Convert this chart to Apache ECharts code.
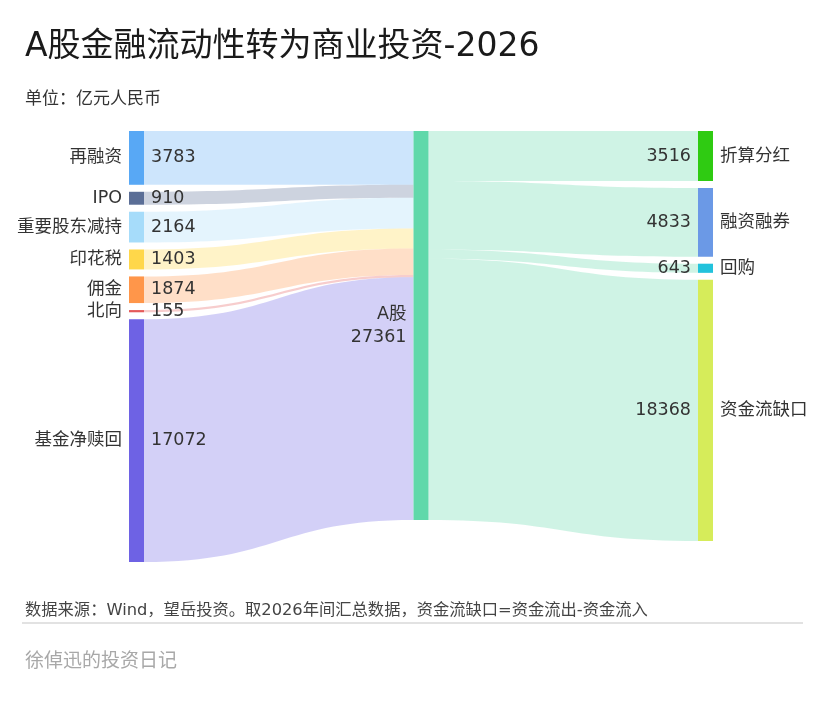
<!DOCTYPE html>
<html>
<head>
<meta charset="utf-8">
<script src="https://cdn.jsdelivr.net/npm/echarts@6/dist/echarts.min.js"></script>
<style>
html, body { margin: 0; padding: 0; background: #fff; }
#main { width: 825px; height: 701px; }
</style>
</head>
<body>
<div id="main"></div>
<script>
// 资金来源（流出A股）
var sourceNames = ['再融资', 'IPO', '重要股东减持', '印花税', '佣金', '北向', '基金净赎回'];
var sourceValues = [3783, 910, 2164, 1403, 1874, 155, 17072];
var sourceColors = ['#58a8f5', '#5b6e96', '#a6dcfa', '#ffd74a', '#ff964a', '#e45a5a', '#6e62e4'];

var hubName = 'A股';
var hubColor = '#60d8aa';

// 资金去向（流入A股 / 缺口）
var useNames = ['折算分红', '融资融券', '回购', '资金流缺口'];
var useValues = [3516, 4833, 643, 18368];
var useColors = ['#2fcb12', '#6b99e6', '#22c2dc', '#d6ec5a'];

var fontName = '"DejaVu Sans", "Noto Sans CJK SC", sans-serif';

function buildNodes() {
    var nodes = [];
    sourceNames.forEach(function (n, i) {
        nodes.push({ name: n, itemStyle: { color: sourceColors[i] } });
    });
    nodes.push({ name: hubName, itemStyle: { color: hubColor } });
    useNames.forEach(function (n, i) {
        nodes.push({ name: n, itemStyle: { color: useColors[i] } });
    });
    return nodes;
}

function buildLinks() {
    var links = [];
    sourceNames.forEach(function (n, i) {
        links.push({ source: n, target: hubName, value: sourceValues[i] });
    });
    useNames.forEach(function (n, i) {
        links.push({ source: hubName, target: n, value: useValues[i] });
    });
    return links;
}

function isUse(name) { return useNames.indexOf(name) >= 0; }

// 两个相同布局的桑基图：一个画图形+左侧标签，一个透明只放右侧标签
function sankeySeries(leftSide) {
    return {
        type: 'sankey',
        left: 129,
        right: 112,
        top: 131,
        bottom: 139,
        nodeWidth: 15,
        nodeGap: 7,
        layoutIterations: 0,   // 保持节点原始顺序
        draggable: false,
        silent: !leftSide,
        emphasis: { disabled: true },
        data: buildNodes(),
        links: buildLinks(),
        itemStyle: leftSide ? { borderWidth: 0 } : { opacity: 0, borderWidth: 0 },
        lineStyle: leftSide ? { color: 'source', opacity: 0.3, curveness: 0.5 } : { opacity: 0 },
        label: {
            position: leftSide ? 'left' : 'right',
            distance: 7,
            color: '#333',
            fontSize: 17.5,
            lineHeight: 23,
            fontFamily: fontName,
            formatter: function (p) {
                if (leftSide) {
                    if (isUse(p.name)) return p.value;
                    if (p.name === hubName) return p.name + '\n' + p.value;
                    return p.name;
                } else {
                    if (isUse(p.name)) return p.name;
                    if (p.name === hubName) return '';
                    return p.value;
                }
            }
        }
    };
}

var myChart = echarts.init(document.getElementById('main'));
var option = {
    backgroundColor: '#fff',
    animation: false,
    title: [
        {
            text: 'A股金融流动性转为商业投资-2026',
            left: 20, top: 26,
            textStyle: { fontSize: 33, fontWeight: 'normal', color: '#1a1a1a', fontFamily: fontName }
        },
        {
            text: '单位：亿元人民币',
            left: 20, top: 86,
            textStyle: { fontSize: 17, fontWeight: 'normal', color: '#333', fontFamily: fontName }
        },
        {
            text: '数据来源：Wind，望岳投资。取2026年间汇总数据，资金流缺口=资金流出-资金流入',
            left: 20, top: 598,
            textStyle: { fontSize: 16.3, fontWeight: 'normal', color: '#444', fontFamily: fontName }
        },
        {
            text: '徐倬迅的投资日记',
            left: 20, top: 648,
            textStyle: { fontSize: 19, fontWeight: 'normal', color: '#a8a8a8', fontFamily: fontName }
        }
    ],
    graphic: [
        {
            type: 'line',
            shape: { x1: 22, y1: 623, x2: 803, y2: 623 },
            style: { stroke: '#e2e2e2', lineWidth: 2 }
        }
    ],
    series: [sankeySeries(true), sankeySeries(false)]
};
myChart.setOption(option);
</script>
</body>
</html>
